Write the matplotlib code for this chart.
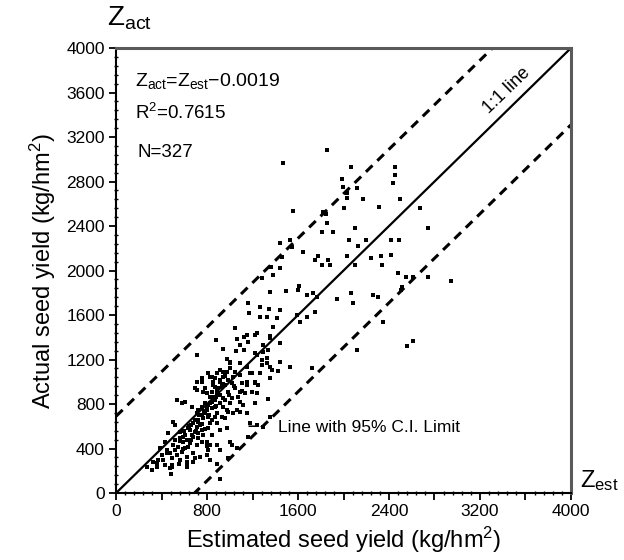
import numpy as np
import matplotlib
matplotlib.use('Agg')
import matplotlib.pyplot as plt
from matplotlib.ticker import MultipleLocator, FixedLocator

# Datos (kg/hm2): estimado (x) y actual (y)
upper_est = [1465, 1855, 2063, 1984, 1993, 2120, 2453, 2453, 2438, 2028, 2028, 2174, 2497,
             2315, 2672, 2004, 1816, 1846, 1553, 1857, 1808, 1911, 2101, 2746, 2051, 2198,
             2130, 2415, 2490, 1442, 1530, 1547, 1640, 1457, 1780, 1749, 1867, 1808, 1881,
             2028, 2240, 2330, 2420, 2336, 2101, 1360, 1445, 1281, 1383, 2482, 2549, 2614,
             2746, 2942, 2511, 2503, 2350, 2555, 2607]
upper_act = [2964, 3083, 2933, 2820, 2753, 2740, 2933, 2858, 2784, 2694, 2649, 2640, 2640,
             2568, 2565, 2559, 2529, 2508, 2535, 2430, 2349, 2349, 2379, 2379, 2274, 2274,
             2220, 2274, 2278, 2250, 2274, 2209, 2165, 2124, 2128, 2094, 2094, 2049, 2049,
             2127, 2110, 2135, 2139, 2049, 2049, 2029, 2020, 1930, 1960, 1975, 1945, 1939,
             1945, 1908, 1855, 1825, 1540, 1321, 1364]

middle_est = [1610, 1603, 1494, 1354, 1676, 1735, 1764, 1940, 2063, 2087, 2262, 2306,
              1163, 1266, 1348, 1442, 1172, 1266, 1330, 1418, 1589, 1676, 1749, 1618,
              1046, 1237, 1354, 1125, 1061, 1163, 1090, 879, 943, 1055, 1125, 1442, 1295,
              1339, 1237, 973, 1002, 1281, 1354, 1427, 1530, 1193, 1266, 1354, 1149, 1031,
              943, 826, 870, 914, 753, 855, 782, 694, 709, 1720, 2116, 1149, 1222, 1383,
              1354, 709, 1222, 1295, 1325, 1442, 1369, 1222, 1110, 987, 1066, 811, 1017]
middle_act = [1858, 1825, 1819, 1810, 1780, 1795, 1765, 1741, 1801, 1705, 1780, 1765,
              1711, 1675, 1651, 1645, 1615, 1585, 1585, 1570, 1600, 1585, 1630, 1540,
              1480, 1435, 1411, 1400, 1382, 1360, 1330, 1375, 1292, 1279, 1285, 1346, 1330,
              1285, 1240, 1202, 1166, 1196, 1130, 1099, 1135, 1076, 1076, 1031, 1000, 1045,
              1090, 1045, 1031, 1000, 1031, 971, 941, 941, 1000, 1121, 1285, 1420, 1420, 1490,
              1390, 1240, 1256, 1270, 1211, 1180, 1106, 1000, 915, 731, 746, 387, 431]

lower_est = [1002, 1090, 1149, 1046, 1090, 1178, 1280, 1324, 1105, 1222, 1251, 1237, 1339,
             1222, 1090, 987, 914, 870, 841, 812, 753, 709, 533, 607, 665, 724, 826, 944,
             1002, 885, 958, 1031, 1090, 1149, 1178, 1237, 1295, 1354, 738, 841, 812, 914,
             973, 665, 563, 504, 592, 651, 724, 797, 504, 445, 460, 372, 416, 563, 621, 680,
             826, 797, 826, 1002, 1061, 1163, 987, 358, 621, 358, 475, 577, 519, 387, 445,
             621, 484, 554, 624, 694, 799, 887, 914, 489]
lower_act = [1181, 1166, 1136, 1091, 1061, 1076, 1151, 1166, 986, 986, 971, 896, 842,
             806, 911, 911, 881, 956, 1046, 1076, 1001, 926, 836, 821, 776, 746, 806, 776,
             806, 716, 672, 716, 731, 716, 627, 612, 597, 687, 612, 657, 582, 567,
             582, 522, 552, 642, 462, 447, 492, 462, 432, 387, 537, 297, 297, 297, 327, 357,
             432, 342, 297, 462, 402, 507, 312, 237, 237, 267, 222, 806, 610, 402, 357,
             281, 173, 262, 262, 316, 422, 262, 130, 231]

core_est = [475, 519, 548, 577, 489, 533, 607, 636, 592, 621, 680, 694, 651, 709, 753, 680,
            724, 768, 782, 738, 709, 797, 753, 782, 841, 870, 826, 797, 768, 841, 885, 900,
            856, 914, 885, 944, 958, 929, 987, 1017, 1031, 973, 914, 1046, 1075, 1017, 958,
            914, 870, 973, 929, 870, 812, 826, 885, 768, 841, 636, 563, 709, 753, 519, 431,
            401, 328, 270, 314, 431, 489, 680, 738, 914, 885, 1090, 1134, 1149, 1193, 1119,
            600, 660, 720, 760, 800, 840, 880, 940,
            560, 610, 640, 690, 730, 770, 810, 850, 890, 930, 960, 1000, 700, 760, 820, 880,
            940, 990, 1040, 660, 720, 780, 590]
core_act = [357, 387, 417, 372, 312, 342, 402, 417, 507, 477, 507, 552, 567, 597, 567, 627,
            657, 672, 716, 701, 716, 746, 776, 806, 761, 836, 866, 896, 911, 911, 896, 941,
            1001, 1016, 1076, 1046, 971, 956, 1016, 986, 1046, 1091, 1106, 941, 866, 851, 836,
            806, 776, 746, 686, 686, 686, 627, 627, 522, 522, 582, 492, 432, 462, 477, 462,
            342, 282, 237, 207, 251, 251, 282, 327, 387, 432, 821, 896, 971, 911, 791,
            560, 610, 640, 700, 760, 820, 860, 980,
            470, 520, 600, 660, 700, 740, 790, 860, 930, 980, 1050, 1120, 560, 620, 700, 780,
            850, 880, 960, 480, 540, 580, 400]

ci_offset = 690
eq_text = 'Z$_{act}$=Z$_{est}$\u22120.0019'
r2_text = 'R$^2$=0.7615'
n_text = 'N=327'
y_ticks = list(range(0, 4001, 400))
x_ticks = list(range(0, 4001, 400))
x_labels = [str(v) if v % 800 == 0 else '' for v in x_ticks]


def main():
    plt.rcParams['font.family'] = ['Liberation Sans', 'DejaVu Sans']
    plt.rcParams['mathtext.fontset'] = 'custom'
    plt.rcParams['mathtext.rm'] = 'Liberation Sans'
    plt.rcParams['mathtext.it'] = 'Liberation Sans'
    plt.rcParams['mathtext.default'] = 'regular'

    est = np.array(upper_est + middle_est + lower_est + core_est)
    act = np.array(upper_act + middle_act + lower_act + core_act)

    fig = plt.figure(figsize=(6.24, 5.6), dpi=100)
    ax = fig.add_axes([0.186, 0.1196, 0.729, 0.7946])

    # Lineas 1:1 y limites del 95%
    lim = np.array([0, 4000])
    ax.plot(lim, lim, color='black', lw=1.6, zorder=2)
    ax.plot(lim, lim + ci_offset, color='black', lw=2.2, ls=(0, (3, 2.2)), zorder=2)
    ax.plot(lim, lim - ci_offset, color='black', lw=2.2, ls=(0, (3, 2.2)), zorder=2)

    ax.scatter(est, act, s=12, marker='s', color='black', linewidths=0, zorder=3)

    ax.set_xlim(0, 4000)
    ax.set_ylim(0, 4000)
    ax.xaxis.set_major_locator(FixedLocator(x_ticks))
    ax.set_xticklabels(x_labels)
    ax.yaxis.set_major_locator(FixedLocator(y_ticks))
    ax.xaxis.set_minor_locator(MultipleLocator(80))
    ax.yaxis.set_minor_locator(MultipleLocator(80))
    ax.tick_params(which='major', direction='out', length=5, width=1.3, labelsize=12.5,
                   top=False, right=False, pad=3)
    ax.tick_params(which='minor', direction='inout', length=3, width=1, top=False, right=False)

    for s in ['left', 'bottom']:
        ax.spines[s].set_linewidth(1.5)
        ax.spines[s].set_color('black')
    for s in ['top', 'right']:
        ax.spines[s].set_linewidth(2.2)
        ax.spines[s].set_color('#5a5a5a')

    ax.set_xlabel('Estimated seed yield (kg/hm$^2$)', fontsize=17, labelpad=4)
    ax.set_ylabel('Actual seed yield (kg/hm$^2$)', fontsize=17, labelpad=6)

    ax.text(170, 3700, eq_text, fontsize=14, va='center')
    ax.text(170, 3420, r2_text, fontsize=13.5, va='center')
    ax.text(190, 3060, n_text, fontsize=13.5, va='center')
    ax.text(3440, 3620, '1:1 line', fontsize=13, rotation=44, ha='center', va='center')
    ax.text(1160, 600, '\u2013', fontsize=12.5, fontweight='bold', va='center')
    ax.text(1420, 593, 'Line with 95% C.I. Limit', fontsize=12.5, va='center')

    ax.text(-0.02, 1.035, 'Z$_{act}$', transform=ax.transAxes, fontsize=20,
            va='bottom', ha='left')
    ax.text(1.02, 0.0, 'Z$_{est}$', transform=ax.transAxes, fontsize=17,
            va='bottom', ha='left')

    fig.savefig('out.png', dpi=100)


if __name__ == '__main__':
    main()
